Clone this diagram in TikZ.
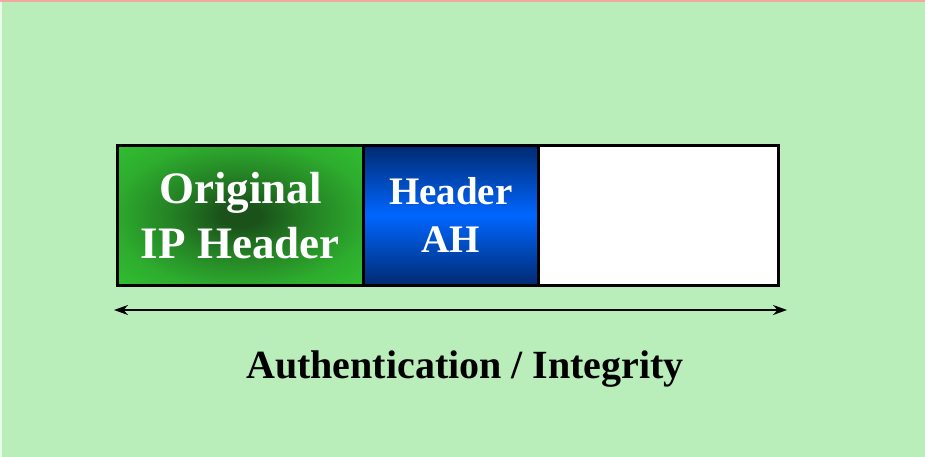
\documentclass[tikz,border=0pt]{standalone}
\usepackage{fontspec}
\setmainfont{Liberation Serif}
\usetikzlibrary{arrows.meta}

\definecolor{bgGreen}{HTML}{B9EEBA}
\definecolor{topRule}{HTML}{F4A8A2}
\definecolor{ipBright}{HTML}{33C633}
\definecolor{ipDark}{HTML}{1A521A}
\definecolor{ahEdge}{HTML}{002A70}
\definecolor{ahMid}{HTML}{0066FF}

% soft dark spot in the middle of the IP header cell
\pgfdeclareradialshading{ipspot}{\pgfpoint{0bp}{0bp}}{%
  color(0bp)=(ipDark); color(4bp)=(ipDark);
  color(14bp)=(ipDark!60!ipBright); color(26bp)=(ipDark!22!ipBright);
  color(40bp)=(ipBright); color(50bp)=(ipBright)}

\tikzset{
  cell/.style={draw=black, line width=2.6pt, minimum height=140pt,
    inner sep=0pt, anchor=north west, text=white, align=center},
}

\begin{document}
\begin{tikzpicture}[x=1pt, y=-1pt]
  % page background
  \fill[bgGreen] (0,0) rectangle (925,457);
  \fill[topRule] (0,0) rectangle (925,2.5);
  \fill[white!70!bgGreen] (0,2.5) rectangle (2,457);
  \useasboundingbox (0,0) rectangle (925,457);

  % packet cells
  \node[cell, minimum width=246pt, shading=ipspot,
        font=\bfseries\fontsize{45}{55}\selectfont]
    (ip) at (116,144) {Original\\IP Header};
  \node[cell, minimum width=175pt, top color=ahEdge, bottom color=ahEdge,
        middle color=ahMid, font=\bfseries\fontsize{39}{48}\selectfont]
    (ah) at (362,144) {Header\\AH};
  \node[cell, minimum width=240pt, fill=white] (data) at (537,144) {};

  % span of the authenticated part
  \coordinate (aL) at (114,310);
  \coordinate (aR) at (787,310);
  \draw[line width=1.6pt, {Stealth[length=14pt,width=10pt]}-{Stealth[length=14pt,width=10pt]}]
    (aL) -- (aR);

  \node[font=\bfseries\fontsize{40}{48}\selectfont] (lbl) at (465,369)
    {Authentication / Integrity};
\end{tikzpicture}
\end{document}
